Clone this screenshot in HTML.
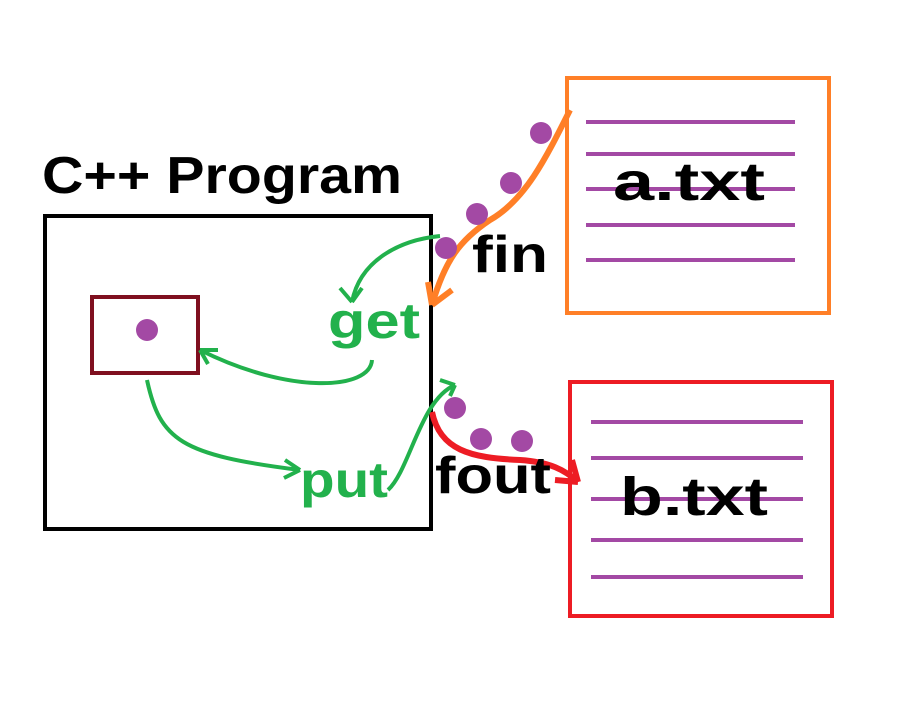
<!DOCTYPE html>
<html><head><meta charset="utf-8"><style>
html,body{margin:0;padding:0;background:#fff;}
svg{display:block;}
text{font-family:"Liberation Sans",sans-serif;font-weight:bold;}
</style></head><body>
<svg width="920" height="706" viewBox="0 0 920 706">
<rect width="920" height="706" fill="#fff"/>
<text x="42" y="193" font-size="52" textLength="360" lengthAdjust="spacingAndGlyphs" fill="#000">C++ Program</text>
<rect x="45" y="216" width="386" height="313" fill="none" stroke="#000" stroke-width="4"/>
<rect x="92" y="297" width="106" height="76" fill="none" stroke="#7f0f1f" stroke-width="4"/>
<circle cx="147" cy="330" r="11" fill="#a349a4"/>

<g>
<rect x="567" y="78" width="262" height="235" fill="none" stroke="#ff7f27" stroke-width="4"/>
<g stroke="#a349a4" stroke-width="4">
<line x1="586" y1="122" x2="795" y2="122"/><line x1="586" y1="154" x2="795" y2="154"/>
<line x1="586" y1="189" x2="795" y2="189"/><line x1="586" y1="225" x2="795" y2="225"/>
<line x1="586" y1="260" x2="795" y2="260"/></g>
<text x="613" y="200" font-size="54" textLength="152" lengthAdjust="spacingAndGlyphs" fill="#000">a.txt</text>
</g>

<g>
<rect x="570" y="382" width="262" height="234" fill="none" stroke="#ed1c24" stroke-width="4"/>
<g stroke="#a349a4" stroke-width="4">
<line x1="591" y1="422" x2="803" y2="422"/><line x1="591" y1="458" x2="803" y2="458"/>
<line x1="591" y1="499" x2="803" y2="499"/><line x1="591" y1="540" x2="803" y2="540"/>
<line x1="591" y1="577" x2="803" y2="577"/></g>
<text x="620" y="515" font-size="54" textLength="148" lengthAdjust="spacingAndGlyphs" fill="#000">b.txt</text>
</g>

<g>
<path d="M570 110 C545 160 525 200 490 220 C460 240 445 260 432 305" fill="none" stroke="#ff7f27" stroke-width="6"/>
<path d="M432 305 L428 282 M432 305 L452 290" fill="none" stroke="#ff7f27" stroke-width="6"/>
<circle cx="541" cy="133" r="11" fill="#a349a4"/><circle cx="511" cy="183" r="11" fill="#a349a4"/>
<circle cx="477" cy="214" r="11" fill="#a349a4"/><circle cx="446" cy="248" r="11" fill="#a349a4"/>
<text x="472" y="272" font-size="52" textLength="76" lengthAdjust="spacingAndGlyphs" fill="#000">fin</text>
</g>

<g>
<path d="M432 412 C440 450 470 458 520 460 C550 462 565 470 578 482" fill="none" stroke="#ed1c24" stroke-width="6"/>
<path d="M578 482 L555 480 M578 482 L572 460" fill="none" stroke="#ed1c24" stroke-width="6"/>
<circle cx="455" cy="408" r="11" fill="#a349a4"/><circle cx="481" cy="439" r="11" fill="#a349a4"/>
<circle cx="522" cy="441" r="11" fill="#a349a4"/>
<text x="435" y="493" font-size="52" textLength="116" lengthAdjust="spacingAndGlyphs" fill="#000">fout</text>
</g>

<g fill="none" stroke="#22b14c" stroke-width="4">
<path d="M440 236 C400 240 360 260 352 302"/><path d="M352 302 L340 288 M352 302 L362 288"/>
<path d="M372 360 C370 390 290 395 200 350"/><path d="M200 350 L218 350 M200 350 L208 364"/>
<path d="M147 380 C160 440 180 455 300 470"/><path d="M300 470 L285 460 M300 470 L284 478"/>
<path d="M388 490 C410 470 420 400 455 385"/><path d="M455 385 L440 380 M455 385 L450 396"/>
</g>
<text x="328" y="338" font-size="50" textLength="92" lengthAdjust="spacingAndGlyphs" fill="#22b14c">get</text>
<text x="300" y="497" font-size="50" textLength="88" lengthAdjust="spacingAndGlyphs" fill="#22b14c">put</text>
</svg>
</body></html>
